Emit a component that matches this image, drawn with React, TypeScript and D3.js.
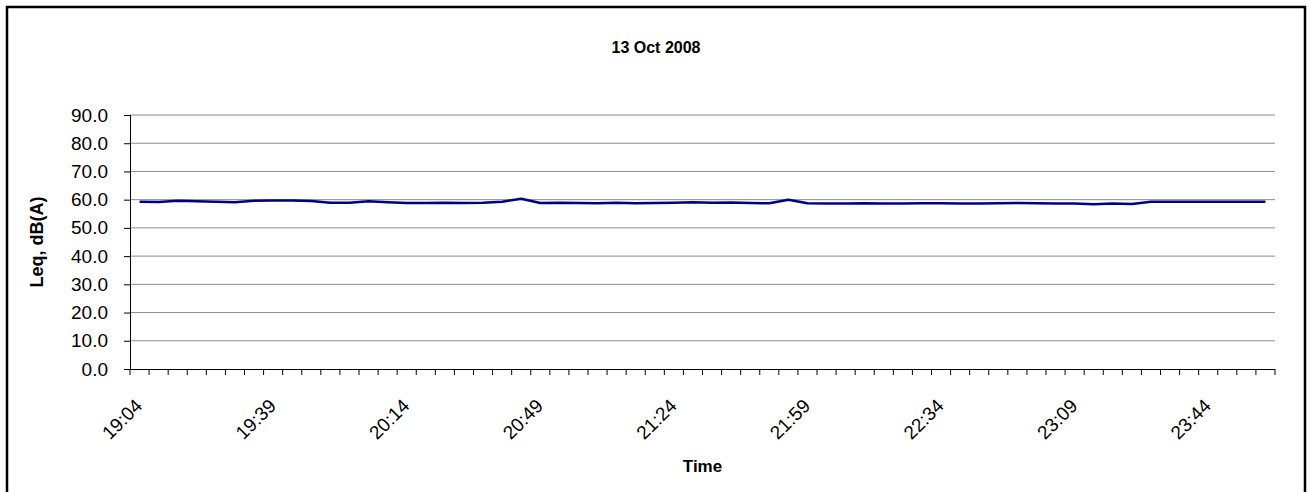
import { useEffect, useRef } from "react"
import * as d3 from "d3"

// 5-minute Leq readings, 19:04 to 23:59
const startTime = "19:04"
const leqValues = [
  59.3, 59.2, 59.6, 59.4, 59.3, 59.1, 59.6, 59.7, 59.7, 59.5,
  58.9, 58.9, 59.4, 59.1, 58.8, 58.8, 58.9, 58.8, 58.9, 59.3,
  60.3, 58.8, 58.9, 58.8, 58.7, 58.9, 58.7, 58.8, 58.9, 59.1,
  58.9, 59.0, 58.8, 58.7, 60.0, 58.7, 58.6, 58.6, 58.7, 58.6,
  58.6, 58.7, 58.7, 58.6, 58.6, 58.7, 58.8, 58.7, 58.6, 58.6,
  58.4, 58.6, 58.5, 59.3, 59.3, 59.3, 59.3, 59.3, 59.3, 59.3,
]
const yTicks = [0, 10, 20, 30, 40, 50, 60, 70, 80, 90]
const labelEvery = 7

const times = leqValues.map((_, i) => {
  const [h, m] = startTime.split(":").map(Number)
  const t = h * 60 + m + i * 5
  return `${Math.floor(t / 60)}:${String(t % 60).padStart(2, "0")}`
})

export default function App() {
  const svgRef = useRef<SVGSVGElement>(null)

  useEffect(() => {
    if (!svgRef.current) return
    const svg = d3.select(svgRef.current)
    svg.selectAll("*").remove()

    const width = 1311
    const height = 492
    const margin = { top: 115, right: 36, bottom: 123, left: 130 }
    const innerWidth = width - margin.left - margin.right
    const innerHeight = height - margin.top - margin.bottom
    const font = "'Liberation Sans', Arial, sans-serif"

    svg.attr("width", width).attr("height", height)

    // outer chart border
    svg.append("rect")
      .attr("x", 7).attr("y", 7)
      .attr("width", 1298).attr("height", 500)
      .attr("fill", "#fff")
      .attr("stroke", "#000")
      .attr("stroke-width", 2.5)

    svg.append("text")
      .attr("x", 656).attr("y", 53)
      .attr("text-anchor", "middle")
      .attr("font-family", font)
      .attr("font-size", "16px")
      .attr("font-weight", "bold")
      .text("13 Oct 2008")

    const g = svg.append("g").attr("transform", `translate(${margin.left},${margin.top})`)

    const x = d3.scaleBand<string>().domain(times).range([0, innerWidth])
    const y = d3.scaleLinear().domain([0, 90]).range([innerHeight, 0])

    // gridlines
    g.selectAll(".grid")
      .data(yTicks.filter((d) => d > 0))
      .join("line")
      .attr("x1", 0).attr("x2", innerWidth)
      .attr("y1", (d) => y(d)).attr("y2", (d) => y(d))
      .attr("stroke", "#8c8c8c")
      .attr("stroke-width", 1)

    // y axis
    const yAxis = g.append("g").call(
      d3.axisLeft(y).tickValues(yTicks).tickFormat(d3.format(".1f")).tickSize(6).tickPadding(16)
    )
    yAxis.select(".domain").attr("stroke", "#000").attr("d", `M0.5,0V${innerHeight}`)
    yAxis.selectAll(".tick line").attr("stroke", "#000")
    yAxis.selectAll("text").attr("font-family", font).attr("font-size", "19px").attr("fill", "#000")

    // x axis: tick marks between categories
    const bw = x.bandwidth()
    g.append("g")
      .selectAll("line")
      .data(d3.range(times.length + 1))
      .join("line")
      .attr("x1", (i) => i * bw).attr("x2", (i) => i * bw)
      .attr("y1", innerHeight).attr("y2", innerHeight + 6)
      .attr("stroke", "#000")
    g.append("line")
      .attr("x1", 0).attr("x2", innerWidth)
      .attr("y1", innerHeight + 0.5).attr("y2", innerHeight + 0.5)
      .attr("stroke", "#000")

    g.selectAll(".xlabel")
      .data(times.filter((_, i) => i % labelEvery === 0))
      .join("text")
      .attr("transform", (d) => `translate(${(x(d) ?? 0) + bw / 2 + 4},${innerHeight + 38}) rotate(-45)`)
      .attr("text-anchor", "end")
      .attr("font-family", font)
      .attr("font-size", "19px")
      .text((d) => d)

    // axis titles
    g.append("text")
      .attr("x", innerWidth / 2).attr("y", innerHeight + 103)
      .attr("text-anchor", "middle")
      .attr("font-family", font)
      .attr("font-size", "17px")
      .attr("font-weight", "bold")
      .text("Time")

    g.append("text")
      .attr("transform", `translate(${43 - margin.left},${innerHeight / 2}) rotate(-90)`)
      .attr("text-anchor", "middle")
      .attr("font-family", font)
      .attr("font-size", "18px")
      .attr("font-weight", "bold")
      .text("Leq, dB(A)")

    // series line
    const line = d3.line<number>()
      .x((_, i) => (x(times[i]) ?? 0) + bw / 2)
      .y((d) => y(d))
    g.append("path")
      .datum(leqValues)
      .attr("d", line)
      .attr("fill", "none")
      .attr("stroke", "#000080")
      .attr("stroke-width", 2.5)
      .attr("stroke-linejoin", "round")
  }, [])

  return <svg ref={svgRef} style={{ position: "absolute", left: 0, top: 0 }} />
}
